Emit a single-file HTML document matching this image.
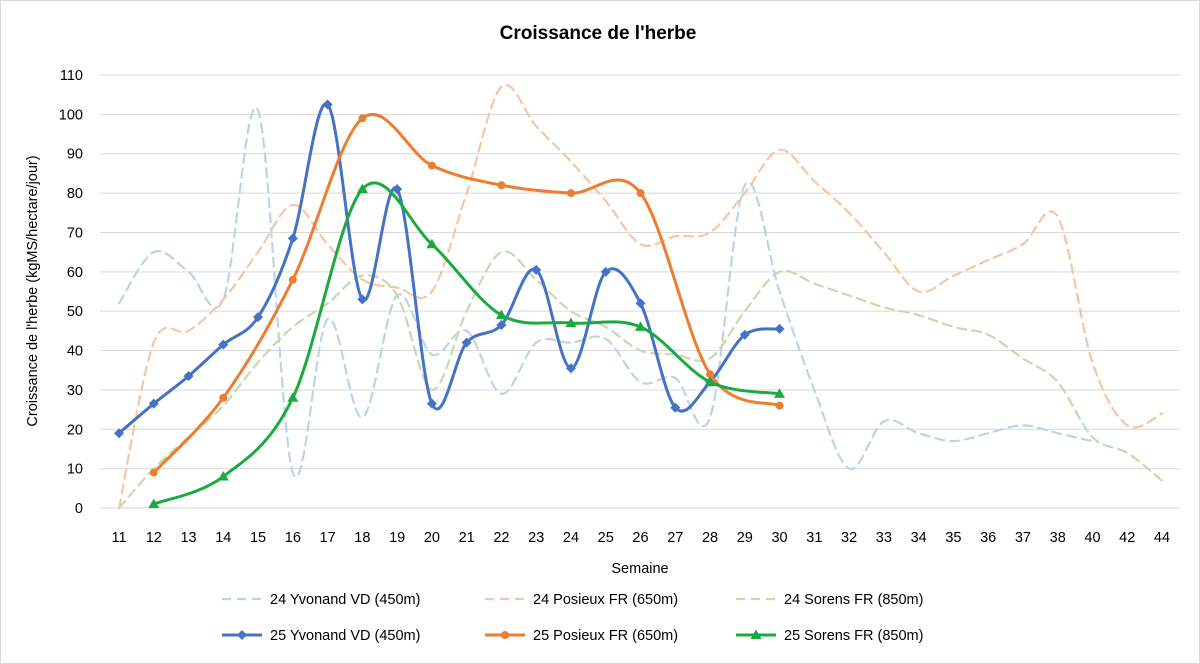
<!DOCTYPE html>
<html><head><meta charset="utf-8"><style>
body{margin:0;background:#fff;}
svg{display:block;font-family:"Liberation Sans",Arial,sans-serif;}
</style></head><body>
<svg id="chart" width="1200" height="664" viewBox="0 0 1200 664">
<rect x="0.5" y="0.5" width="1199" height="663" fill="#fff" stroke="#d9d9d9"/>
<text x="598" y="39" text-anchor="middle" font-size="19" font-weight="bold" fill="#000">Croissance de l'herbe</text>
<text transform="translate(37,291) rotate(-90)" text-anchor="middle" font-size="14.5" fill="#000">Croissance de l'herbe (kgMS/hectare/jour)</text>
<text x="640" y="573" text-anchor="middle" font-size="14.5" fill="#000">Semaine</text>
<g id="grid"></g><g id="yt"></g><g id="xt"></g><g id="series"></g><g id="legend"></g>
</svg>
<script>
const categories=["11","12","13","14","15","16","17","18","19","20","21","22","23","24","25","26","27","28","29","30","31","32","33","34","35","36","37","38","40","42","44"];
const yTicks=[0,10,20,30,40,50,60,70,80,90,100,110];
const y24Yvonand=[52,65,60,53,101,9,48,23,54,39,45,29,42,42,43,32,33,23,82,55,30,10,22,19,17,19,21,19,17,null,null];
const y24Posieux=[0,42,45,53,65,77,67,58,56,55,80,107,97,88,78,67,69,70,80,91,83,75,65,55,59,63,67,74,37,21,24];
const y24Sorens=[0,10,18,26,37,46,52,59,54,30,50,65,58,50,46,40,39,38,50,60,57,54,51,49,46,44,38,32,18,14,7];
const y25Yvonand=[19,26.5,33.5,41.5,48.5,68.5,102.5,53,81,26.5,42,46.5,60.5,35.5,60,52,25.5,32,44,45.5];
const y25Posieux=[null,9,null,28,null,58,null,99,null,87,null,82,null,80,null,80,null,34,null,26];
const y25Sorens=[null,1,null,8,null,28,null,81,null,67,null,49,null,47,null,46,null,32,null,29];
const NS="http://www.w3.org/2000/svg";
const X0=119,X1=1162,Y0=508,Y1=75;
const xs=i=>X0+(X1-X0)*i/(categories.length-1);
const ys=v=>Y0-(Y0-Y1)*v/110;
function mk(tag,attrs,parent){const e=document.createElementNS(NS,tag);for(const k in attrs)e.setAttribute(k,attrs[k]);parent.appendChild(e);return e;}
const grid=document.getElementById('grid'),yt=document.getElementById('yt'),xt=document.getElementById('xt');
yTicks.forEach(t=>{
 const l=mk('line',{x1:100,x2:1180,y1:ys(t),y2:ys(t),stroke:'#d9d9d9','stroke-width':1},grid);
 
 
 const tx=mk('text',{x:83,y:ys(t)+5,'text-anchor':'end','font-size':14.5,fill:'#000'},yt);
 tx.textContent=t;
 
 
});
categories.forEach((c,i)=>{
 const tx=mk('text',{x:xs(i),y:542,'text-anchor':'middle','font-size':14.5,fill:'#000'},xt);
 tx.textContent=c;
 
 
});
function path(vals){
 const p=[];vals.forEach((v,i)=>{if(v!==null&&v!==undefined)p.push([xs(i),ys(v)]);});
 let d='M'+p[0][0]+','+p[0][1];
 for(let i=0;i<p.length-1;i++){
  const a=p[i-1]||p[i],b=p[i],c=p[i+1],e=p[i+2]||c;
  const t=1/6;
  d+=' C'+(b[0]+(c[0]-a[0])*t)+','+(b[1]+(c[1]-a[1])*t)+' '+(c[0]-(e[0]-b[0])*t)+','+(c[1]-(e[1]-b[1])*t)+' '+c[0]+','+c[1];
 }
 return {d,p};
}
const series=[
 {vals:y24Yvonand,color:'#bdd3ea',dash:'9,6',w:2.2,name:'24 Yvonand VD (450m)',slug:'24-yvonand',m:null},
 {vals:y24Posieux,color:'#f6c6a4',dash:'9,6',w:2.2,name:'24 Posieux FR (650m)',slug:'24-posieux',m:null},
 {vals:y24Sorens,color:'#c2dcae',dash:'9,6',w:2.2,name:'24 Sorens FR (850m)',slug:'24-sorens',m:null},
 {vals:y25Yvonand,color:'#4472c4',dash:null,w:3,name:'25 Yvonand VD (450m)',slug:'25-yvonand',m:'diamond'},
 {vals:y25Posieux,color:'#ed7d31',dash:null,w:3,name:'25 Posieux FR (650m)',slug:'25-posieux',m:'circle'},
 {vals:y25Sorens,color:'#1aab40',dash:null,w:3,name:'25 Sorens FR (850m)',slug:'25-sorens',m:'triangle'}
];
const sg=document.getElementById('series');
function marker(type,x,y,color,g){
 let e;
 if(type==='diamond')e=mk('path',{d:`M${x},${y-5}L${x+5},${y}L${x},${y+5}L${x-5},${y}Z`,fill:color},g);
 else if(type==='circle')e=mk('circle',{cx:x,cy:y,r:4,fill:color},g);
 else e=mk('path',{d:`M${x},${y-5.5}L${x+5.5},${y+4}L${x-5.5},${y+4}Z`,fill:color},g);
 return e;
}
series.forEach(s=>{
 const g=mk('g',{},sg);
 
 
 const r=path(s.vals);
 const l=mk('path',{d:r.d,fill:'none',stroke:s.color,'stroke-width':s.w,'stroke-linecap':'round'},g);
 if(s.dash)l.setAttribute('stroke-dasharray',s.dash);
 
 
 if(s.m)r.p.forEach((pt,k)=>{
  const m=marker(s.m,pt[0],pt[1],s.color,g);
  
  
 });
});
const lg=document.getElementById('legend');
const lx=[222,485,736],ly=[599,635];
series.forEach((s,i)=>{
 const x=lx[i%3],y=ly[Math.floor(i/3)];
 const g=mk('g',{},lg);
 
 
 const l=mk('line',{x1:x,x2:x+40,y1:y,y2:y,stroke:s.color,'stroke-width':s.w},g);
 if(s.dash)l.setAttribute('stroke-dasharray','9,6');
 if(s.m)marker(s.m,x+20,y,s.color,g);
 const t=mk('text',{x:x+48,y:y+5,'font-size':14.5,fill:'#000'},g);
 t.textContent=s.name;
});
</script>
</body></html>
